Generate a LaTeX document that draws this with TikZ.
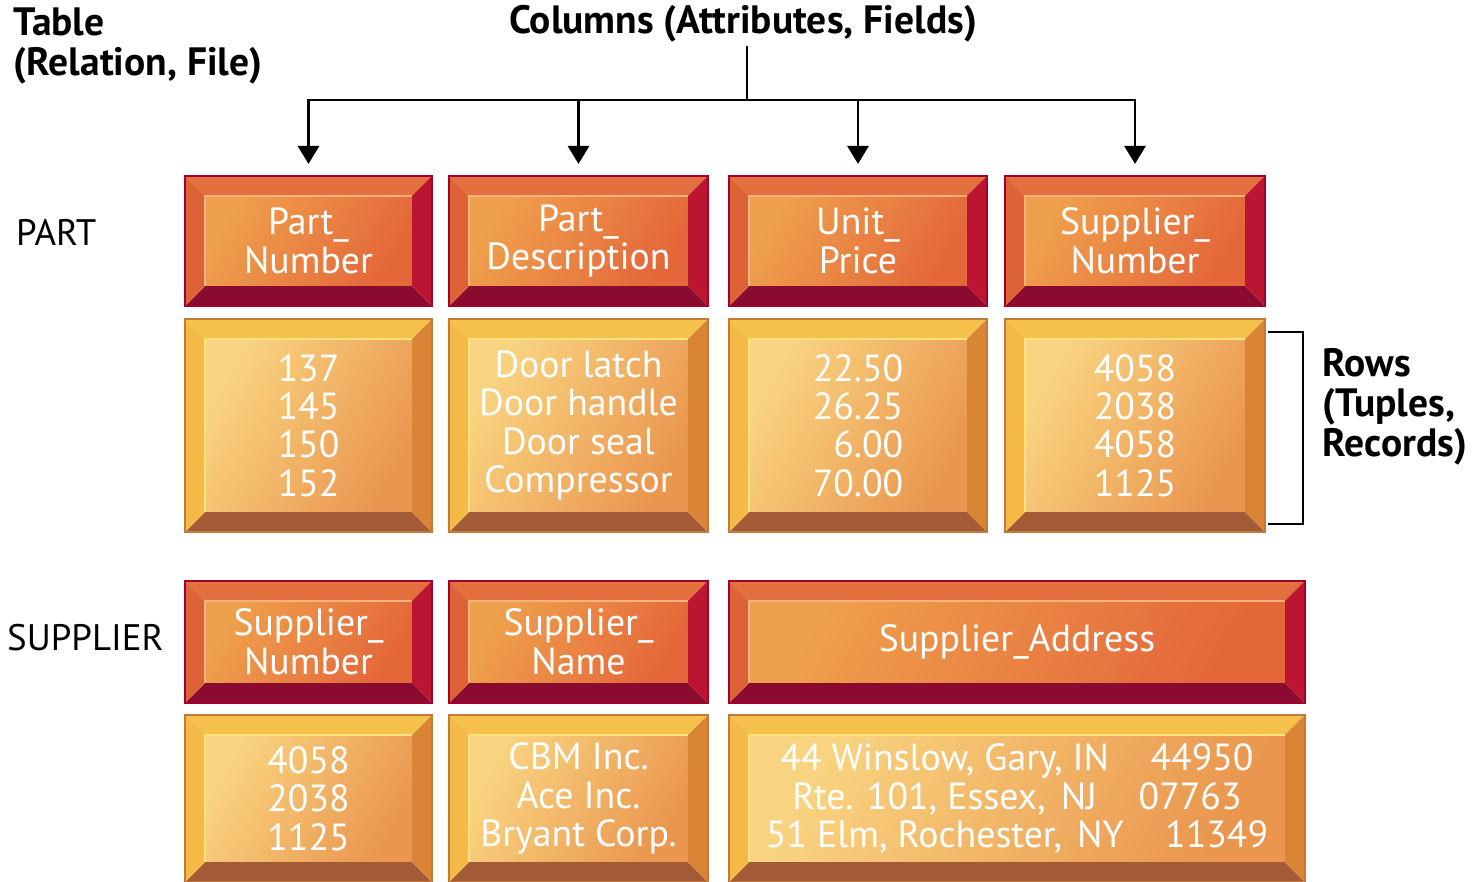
\documentclass[tikz,border=0pt]{standalone}
\usepackage{fontspec}
\setmainfont{PT Sans}
\usetikzlibrary{arrows.meta,calc}

\definecolor{hdredge}{HTML}{A3002B}
\definecolor{hdrtop}{HTML}{E4703F}
\definecolor{hdrleft}{HTML}{DD6235}
\definecolor{hdrright}{HTML}{BB1531}
\definecolor{hdrbot}{HTML}{8A0B2F}
\definecolor{hdrfacea}{HTML}{EFA04C}
\definecolor{hdrfaceb}{HTML}{E4673A}
\definecolor{hdrhi}{HTML}{F6B27C}
\definecolor{rowedge}{HTML}{C27A3B}
\definecolor{rowtop}{HTML}{F6C14B}
\definecolor{rowleft}{HTML}{F5BA45}
\definecolor{rowright}{HTML}{DA8536}
\definecolor{rowbot}{HTML}{A25B36}
\definecolor{rowfacea}{HTML}{F9D480}
\definecolor{rowfaceb}{HTML}{EA964F}
\definecolor{rowhi}{HTML}{FFE380}

\newcommand{\bevw}{0.4cm}
% top, left, right, bottom, face a, face b, highlight
\newcommand{\bevelfill}[7]{%
  \path (path picture bounding box.south west) coordinate (bsw)
        (path picture bounding box.north east) coordinate (bne);
  \fill[#1] (bsw |- bne) -- (bne) -- ($(bne)+(-\bevw,-\bevw)$) -- ($(bsw |- bne)+(\bevw,-\bevw)$) -- cycle;
  \fill[#4] (bsw) -- (bne |- bsw) -- ($(bne |- bsw)+(-\bevw,\bevw)$) -- ($(bsw)+(\bevw,\bevw)$) -- cycle;
  \fill[#2] (bsw) -- (bsw |- bne) -- ($(bsw |- bne)+(\bevw,-\bevw)$) -- ($(bsw)+(\bevw,\bevw)$) -- cycle;
  \fill[#3] (bne |- bsw) -- (bne) -- ($(bne)+(-\bevw,-\bevw)$) -- ($(bne |- bsw)+(-\bevw,\bevw)$) -- cycle;
  \shade[top color=#5, bottom color=#6, shading angle=60]
    ($(bsw)+(\bevw,\bevw)$) rectangle ($(bne)+(-\bevw,-\bevw)$);
  \draw[#7, line width=1pt] ($(bsw)+(\bevw,\bevw)$) |- ($(bne)+(-\bevw,-\bevw)$);
}

\tikzset{
  hdrbox/.style={draw=hdredge, line width=1.2pt, text=white, align=center,
    inner sep=0pt, font=\fontsize{21.5}{21.9}\selectfont,
    path picture={\bevelfill{hdrtop}{hdrleft}{hdrright}{hdrbot}{hdrfacea}{hdrfaceb}{hdrhi}}},
  rowbox/.style={draw=rowedge, line width=1.2pt, text=white, align=center,
    inner sep=0pt, font=\fontsize{21.5}{21.9}\selectfont,
    path picture={\bevelfill{rowtop}{rowleft}{rowright}{rowbot}{rowfacea}{rowfaceb}{rowhi}}},
  title/.style={font=\bfseries\fontsize{22.5}{22.8}\selectfont, align=left, inner sep=2pt},
  tablename/.style={font=\fontsize{21}{22}\selectfont, anchor=west},
  colarrow/.style={line width=1.6pt, -{Triangle[length=0.36cm,width=0.42cm]}, shorten >=0.22cm},
}

\begin{document}
\begin{tikzpicture}[x=0.02cm, y=-0.02cm]
  \useasboundingbox (0,0) rectangle (1478,882);

  \node[title, anchor=north west] (tbl) at (10,4) {Table\\(Relation, File)};
  \node[title] (cols) at (743,24) {Columns (Attributes, Fields)};
  \node[tablename] (part) at (10,232) {PART};
  \node[tablename] (supp) at (1,638) {SUPPLIER};

  % PART table
  \node[hdrbox, minimum width=4.94cm, minimum height=2.6cm] (pnum) at (308.5,241) {Part\_\\Number};
  \node[hdrbox, minimum width=5.18cm, minimum height=2.6cm] (pdesc) at (578.5,241) {Part\_\\Description};
  \node[hdrbox, minimum width=5.16cm, minimum height=2.6cm] (uprice) at (858,241) {Unit\_\\Price};
  \node[hdrbox, minimum width=5.2cm, minimum height=2.6cm] (snum) at (1135,241) {Supplier\_\\Number};

  \node[rowbox, minimum width=4.94cm, minimum height=4.26cm] (pnumr) at (308.5,425.5) {137\\145\\150\\152};
  \node[rowbox, minimum width=5.18cm, minimum height=4.26cm] (pdescr) at (578.5,425.5) {Door latch\\Door handle\\Door seal\\Compressor};
  \node[rowbox, minimum width=5.16cm, minimum height=4.26cm, align=right] (upricer) at (858,425.5) {22.50\\26.25\\6.00\\70.00};
  \node[rowbox, minimum width=5.2cm, minimum height=4.26cm] (snumr) at (1135,425.5) {4058\\2038\\4058\\1125};

  % SUPPLIER table
  \node[hdrbox, minimum width=4.94cm, minimum height=2.44cm] (sid) at (308.5,642) {Supplier\_\\Number};
  \node[hdrbox, minimum width=5.18cm, minimum height=2.44cm] (sname) at (578.5,642) {Supplier\_\\Name};
  \node[hdrbox, minimum width=11.52cm, minimum height=2.44cm] (saddr) at (1017,642) {Supplier\_Address};

  \node[rowbox, minimum width=4.94cm, minimum height=3.34cm] (sidr) at (308.5,798.5) {4058\\2038\\1125};
  \node[rowbox, minimum width=5.18cm, minimum height=3.34cm] (snamer) at (578.5,798.5) {CBM Inc.\\Ace Inc.\\Bryant Corp.};
  \node[rowbox, minimum width=11.52cm, minimum height=3.34cm] (saddrr) at (1017,798.5)
    {44 Winslow, Gary, IN\hspace{1.1em}44950\\Rte. 101, Essex,\hspace{0.4em}NJ\hspace{1.1em}07763\\51 Elm, Rochester,\hspace{0.4em}NY\hspace{1.1em}11349};

  % columns arrows
  \coordinate (hub) at (747,100);
  \draw[line width=1.6pt] (cols.south -| hub) -- (hub);
  \foreach \col in {pnum,pdesc,uprice,snum}
    \draw[colarrow] (hub) -| (\col);

  % rows bracket
  \coordinate (brtop) at (1268,332);
  \coordinate (brbot) at (1268,524);
  \draw[line width=1.6pt] (brtop) -- ++(35,0) |- (brbot);
  \node[title] (rows) at (1395,407) {Rows\\(Tuples,\\Records)};
\end{tikzpicture}
\end{document}
